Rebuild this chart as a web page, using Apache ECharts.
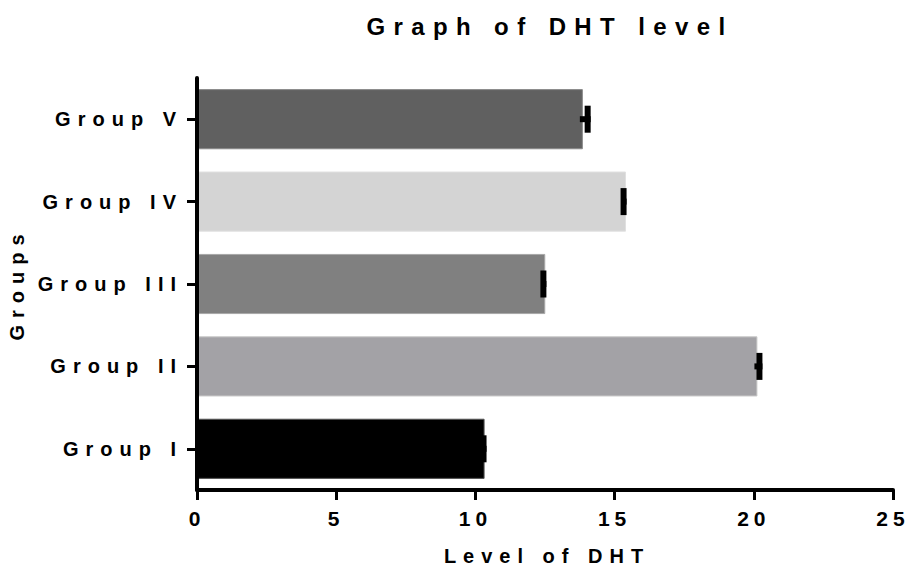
<!DOCTYPE html>
<html>
<head>
<meta charset="utf-8">
<script src="https://cdn.jsdelivr.net/npm/echarts@6/dist/echarts.min.js"></script>
<style>
  html, body { margin: 0; padding: 0; background: #fff; }
  #chart { width: 910px; height: 569px; letter-spacing: 7px; }
  #chart text[style*="24px"] { letter-spacing: 8.4px; }
  #chart text[style*="21px"] { letter-spacing: 5px; }
</style>
</head>
<body>
<div id="chart"></div>
<script>
const categories = ['Group I', 'Group II', 'Group III', 'Group IV', 'Group V'];
const means = [10.33, 20.13, 12.51, 15.41, 13.86];
const errors = [0.07, 0.18, 0.04, 0.02, 0.28];
const barColors = ['#000000', '#a3a2a6', '#808080', '#d4d4d4', '#606060'];
const borderColors = ['#555555', '#c8c8c8', '#a8a8a8', '#e0e0e0', '#8a8a8a'];
const xTicks = [0, 5, 10, 15, 20, 25];

const FONT = '"Liberation Sans", Arial, Helvetica, sans-serif';

const chart = echarts.init(document.getElementById('chart'), null, { renderer: 'svg' });

const barData = means.map((m, i) => ({
  value: m,
  itemStyle: { color: barColors[i], borderColor: borderColors[i], borderWidth: 1 }
}));
const errData = means.map((m, i) => [i, m, errors[i]]);

chart.setOption({
  animation: false,
  backgroundColor: '#ffffff',
  title: {
    text: 'Graph of DHT level',
    left: 545,
    textAlign: 'center',
    top: 9,
    textStyle: { fontFamily: FONT, fontWeight: 'bold', fontSize: 24, color: '#000' }
  },
  grid: { left: 197, right: 17, top: 78, bottom: 79, containLabel: false, outerBoundsMode: 'none' },
  xAxis: {
    type: 'value',
    min: xTicks[0],
    max: xTicks[xTicks.length - 1],
    interval: 5,
    z: 5,
    name: 'Level of DHT',
    nameLocation: 'middle',
    nameGap: 56,
    nameTextStyle: { fontFamily: FONT, fontWeight: 'bold', fontSize: 20, color: '#000', padding: [0, 0, 0, 4] },
    axisLine: { show: true, lineStyle: { color: '#000', width: 4 } },
    axisTick: { show: true, length: 10, lineStyle: { color: '#000', width: 3 } },
    axisLabel: { fontFamily: FONT, fontWeight: 'bold', fontSize: 21, color: '#000', margin: 18 },
    splitLine: { show: false }
  },
  yAxis: {
    type: 'category',
    data: categories,
    z: 5,
    name: 'Groups',
    nameLocation: 'middle',
    nameGap: 170,
    nameRotate: 90,
    nameTextStyle: { fontFamily: FONT, fontWeight: 'bold', fontSize: 20, color: '#000' },
    axisLine: { show: true, lineStyle: { color: '#000', width: 4 } },
    axisTick: { show: true, alignWithLabel: true, length: 10, lineStyle: { color: '#000', width: 3 } },
    axisLabel: { fontFamily: FONT, fontWeight: 'bold', fontSize: 20, color: '#000', margin: 14 }
  },
  series: [
    {
      type: 'bar',
      data: barData,
      barCategoryGap: '27%',
      z: 2
    },
    {
      type: 'custom',
      data: errData,
      encode: { x: 1, y: 0 },
      z: 3,
      renderItem: function (params, api) {
        const c = api.value(0);
        const m = api.value(1);
        const s = api.value(2);
        const pEnd = api.coord([m + s, c]);
        const pMean = api.coord([m, c]);
        return {
          type: 'group',
          children: [
            { type: 'rect', shape: { x: pEnd[0] - 6, y: pEnd[1] - 13.5, width: 6, height: 27 }, style: { fill: '#000' } },
            { type: 'rect', shape: { x: pMean[0] - 3, y: pEnd[1] - 3, width: pEnd[0] - pMean[0] + 3, height: 6 }, style: { fill: '#000' } }
          ]
        };
      }
    }
  ]
});
</script>
</body>
</html>
